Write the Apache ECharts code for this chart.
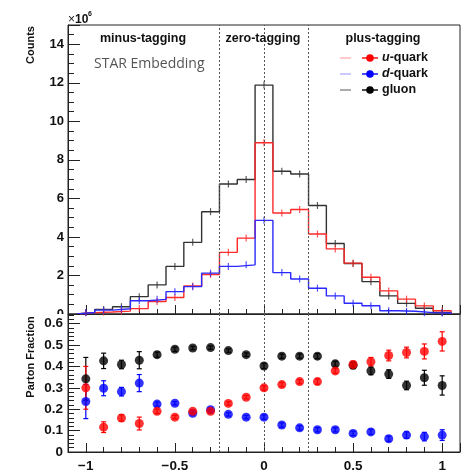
<!DOCTYPE html>
<html>
<head>
<meta charset="utf-8">
<script src="https://cdn.jsdelivr.net/npm/echarts@6/dist/echarts.min.js"></script>
<style>
  html, body { margin: 0; padding: 0; background: #fff; }
  #chart { width: 462px; height: 473px; }
</style>
</head>
<body>
<div id="chart"></div>
<script>
// === donnees ===
const binCenters = [-1.0, -0.9, -0.8, -0.7, -0.6, -0.5, -0.4, -0.3, -0.2, -0.1, 0.0,
                    0.1, 0.2, 0.3, 0.4, 0.5, 0.6, 0.7, 0.8, 0.9, 1.0];
const binWidth = 0.1;

// Counts (x10^6)
const gluonCounts = [0.08, 0.24, 0.38, 0.90, 1.51, 2.47, 3.72, 5.31, 6.75, 6.98, 11.88,
                     7.41, 7.27, 5.63, 3.66, 2.62, 1.68, 0.94, 0.55, 0.30, 0.08];
const uCounts = [0.07, 0.10, 0.15, 0.28, 0.65, 0.86, 1.45, 2.05, 3.20, 3.94, 8.89,
                 5.24, 5.42, 4.15, 3.38, 2.64, 1.91, 1.20, 0.77, 0.42, 0.17];
const dCounts = [0.08, 0.20, 0.27, 0.69, 0.76, 1.16, 1.42, 2.12, 2.47, 2.55, 4.86,
                 2.15, 1.82, 1.34, 0.94, 0.56, 0.43, 0.17, 0.14, 0.07, 0.05];

// Parton fraction
const gluonFrac = [0.342, 0.426, 0.409, 0.429, 0.455, 0.480, 0.486, 0.488, 0.474, 0.455, 0.402,
                   0.448, 0.448, 0.448, 0.412, 0.405, 0.379, 0.364, 0.311, 0.347, 0.311];
const gluonErr = [0.10, 0.036, 0.02, 0.04, 0.012, 0.01, 0.008, 0.008, 0.008, 0.008, 0.012,
                  0.01, 0.01, 0.012, 0.012, 0.015, 0.018, 0.02, 0.02, 0.035, 0.045];
const uFrac = [0.300, 0.116, 0.159, 0.133, 0.190, 0.163, 0.190, 0.190, 0.227, 0.256, 0.300,
               0.315, 0.329, 0.329, 0.379, 0.409, 0.422, 0.451, 0.465, 0.470, 0.517];
const uErr = [0.10, 0.025, 0.015, 0.03, 0.01, 0.008, 0.008, 0.008, 0.008, 0.008, 0.01,
              0.01, 0.01, 0.012, 0.012, 0.015, 0.02, 0.025, 0.025, 0.035, 0.045];
const dFrac = [0.236, 0.298, 0.282, 0.322, 0.224, 0.228, 0.181, 0.198, 0.176, 0.163, 0.163,
               0.126, 0.113, 0.104, 0.104, 0.087, 0.094, 0.062, 0.079, 0.072, 0.079];
const dErr = [0.08, 0.035, 0.02, 0.04, 0.01, 0.008, 0.008, 0.008, 0.008, 0.008, 0.01,
              0.01, 0.01, 0.01, 0.01, 0.01, 0.012, 0.012, 0.015, 0.02, 0.025];

const tagCuts = [-0.25, 0, 0.25];
const regionLabels = ["minus-tagging", "zero-tagging", "plus-tagging"];

// === helpers ===
const FONT = "Liberation Sans";
const RED = "#ff2a2a", BLUE = "#2a2aff", BLACK = "#333";

function histoPoints(vals) {
  const pts = [[binCenters[0] - binWidth / 2, 0]];
  binCenters.forEach((c, i) => {
    pts.push([c - binWidth / 2, vals[i]]);
    pts.push([c + binWidth / 2, vals[i]]);
  });
  pts.push([binCenters[binCenters.length - 1] + binWidth / 2, 0]);
  return pts;
}

function histoSeries(name, vals, color, withCuts) {
  const s = {
    name, type: "line", xAxisIndex: 0, yAxisIndex: 0,
    data: histoPoints(vals), showSymbol: false, silent: true,
    lineStyle: { color, width: 1.4 }, z: 3
  };
  if (withCuts) s.markLine = cutLines();
  return s;
}

function histoErrSeries(vals, color) {
  return {
    type: "scatter", xAxisIndex: 0, yAxisIndex: 0, silent: true,
    data: binCenters.map((c, i) => [c, vals[i]]),
    symbol: "rect", symbolSize: [1.2, 7],
    itemStyle: { color }, z: 4
  };
}

function cutLines() {
  return {
    silent: true, symbol: ["none", "none"], label: { show: false },
    lineStyle: { type: [2, 2], color: "#555", width: 1 },
    data: tagCuts.map(v => ({ xAxis: v }))
  };
}

function fracSeries(name, vals, color, withCuts) {
  const s = {
    name, type: "scatter", xAxisIndex: 1, yAxisIndex: 1, silent: true,
    data: binCenters.map((c, i) => [c, vals[i]]),
    symbol: "circle", symbolSize: 9,
    itemStyle: { color }, z: 5
  };
  if (withCuts) s.markLine = cutLines();
  return s;
}

function errSeries(vals, errs, color) {
  return {
    type: "custom", xAxisIndex: 1, yAxisIndex: 1, silent: true, z: 4,
    data: binCenters.map((c, i) => [c, vals[i], errs[i]]),
    renderItem(params, api) {
      const x = api.value(0), y = api.value(1), e = api.value(2);
      const hi = api.coord([x, y + e]);
      const lo = api.coord([x, y - e]);
      const st = { stroke: color, lineWidth: 1.2 };
      return {
        type: "group",
        children: [
          { type: "line", shape: { x1: hi[0], y1: hi[1], x2: lo[0], y2: lo[1] }, style: st },
          { type: "line", shape: { x1: hi[0] - 2.5, y1: hi[1], x2: hi[0] + 2.5, y2: hi[1] }, style: st },
          { type: "line", shape: { x1: lo[0] - 2.5, y1: lo[1], x2: lo[0] + 2.5, y2: lo[1] }, style: st }
        ]
      };
    }
  };
}

const tickLabel = { fontFamily: FONT, fontWeight: "bold", fontSize: 13, color: "#111" };
const axisLine = { show: true, onZero: false, lineStyle: { color: "#222", width: 1 } };

function xAxisDef(gridIndex, showLabels) {
  return {
    type: "value", gridIndex, min: -1.1, max: 1.1, splitNumber: 4,
    axisLine, splitLine: { show: false },
    axisTick: { inside: true, length: 9, lineStyle: { color: "#222" } },
    minorTick: { show: true, splitNumber: 5, length: 5, lineStyle: { color: "#222" } },
    axisLabel: Object.assign({
      show: showLabels, margin: 7, showMinLabel: false, showMaxLabel: false,
      formatter: v => (Math.abs(v) > 1.05 ? "" : v < 0 ? "\u2212" + Math.abs(v) : String(v))
    }, tickLabel, { fontSize: 13.5 })
  };
}

// === chart ===
const chart = echarts.init(document.getElementById("chart"));

const option = {
  animation: false,
  backgroundColor: "#fff",
  grid: [
    { left: 68, right: 2, top: 25, height: 289, show: true, borderColor: "#222", borderWidth: 1, backgroundColor: "transparent" },
    { left: 68, right: 2, top: 314, height: 149, show: true, borderColor: "#222", borderWidth: 1, backgroundColor: "transparent" }
  ],
  xAxis: [xAxisDef(0, false), xAxisDef(1, true)],
  yAxis: [
    {
      type: "value", gridIndex: 0, min: 0, max: 15, interval: 2, z: 0,
      axisLine, splitLine: { show: false },
      axisTick: { inside: true, length: 12, lineStyle: { color: "#222" } },
      minorTick: { show: true, splitNumber: 4, length: 6, lineStyle: { color: "#222" } },
      axisLabel: Object.assign({ margin: 4, showMaxLabel: false }, tickLabel)
    },
    {
      type: "value", gridIndex: 1, min: 0, max: 0.645, interval: 0.1, z: 10,
      axisLine, splitLine: { show: false },
      axisTick: { inside: true, length: 12, lineStyle: { color: "#222" } },
      minorTick: { show: true, splitNumber: 5, length: 6, lineStyle: { color: "#222" } },
      axisLabel: Object.assign({ margin: 5, showMaxLabel: false }, tickLabel, { fontSize: 13.5 })
    }
  ],
  series: [
    histoSeries("gluon", gluonCounts, BLACK, true),
    histoSeries("u-quark", uCounts, RED, false),
    histoSeries("d-quark", dCounts, BLUE, false),
    histoErrSeries(gluonCounts, BLACK),
    histoErrSeries(uCounts, RED),
    histoErrSeries(dCounts, BLUE),
    errSeries(gluonFrac, gluonErr, "#000"),
    errSeries(dFrac, dErr, "#0000ff"),
    errSeries(uFrac, uErr, "#ff0000"),
    fracSeries("gluon", gluonFrac, "#000", true),
    fracSeries("d-quark", dFrac, "#0000ff", false),
    fracSeries("u-quark", uFrac, "#ff0000", false)
  ],
  graphic: [
    // le pad du bas cache la moitie du "0" du haut
    { type: "rect", z: 5, shape: { x: 46, y: 314, width: 20, height: 8 }, style: { fill: "#fff" } },
    // titres d'axes
    { type: "text", x: 31, y: 45, rotation: Math.PI / 2, z: 20,
      style: { text: "Counts", font: `bold 11px ${FONT}`, fill: "#111", textAlign: "center", textVerticalAlign: "middle" } },
    { type: "text", x: 31, y: 357, rotation: Math.PI / 2, z: 20,
      style: { text: "Parton Fraction", font: `bold 11px ${FONT}`, fill: "#111", textAlign: "center", textVerticalAlign: "middle" } },
    { type: "text", x: 68, y: 20,
      style: { text: "\u00d7", font: `12px ${FONT}`, fill: "#222", textAlign: "left", textVerticalAlign: "middle" } },
    { type: "text", x: 75, y: 20,
      style: { text: "10", font: `bold 12px ${FONT}`, fill: "#111", textAlign: "left", textVerticalAlign: "middle" } },
    { type: "text", x: 88, y: 14,
      style: { text: "6", font: `bold 7px ${FONT}`, fill: "#111", textAlign: "left", textVerticalAlign: "middle" } },
    // regions
    { type: "text", x: 143, y: 39, z: 20,
      style: { text: regionLabels[0], font: `bold 12.5px ${FONT}`, fill: "#111", textAlign: "center", textVerticalAlign: "middle" } },
    { type: "text", x: 263, y: 39, z: 20,
      style: { text: regionLabels[1], font: `bold 12.5px ${FONT}`, fill: "#111", textAlign: "center", textVerticalAlign: "middle" } },
    { type: "text", x: 383, y: 39, z: 20,
      style: { text: regionLabels[2], font: `bold 12.5px ${FONT}`, fill: "#111", textAlign: "center", textVerticalAlign: "middle" } },
    { type: "text", x: 94, y: 64, z: 20,
      style: { text: "STAR Embedding", font: `14px "Open Sans"`, fill: "#555", textAlign: "left", textVerticalAlign: "middle" } },
    // legende
    ...[["u", "-quark", "#ff0000", "rgba(255,0,0,0.35)", 58],
        ["d", "-quark", "#0000ff", "rgba(0,0,255,0.35)", 74],
        ["", "gluon", "#000", "rgba(0,0,0,0.55)", 90]].flatMap(([it, rest, col, faint, y]) => [
      { type: "line", z: 20, shape: { x1: 340, y1: y, x2: 351, y2: y }, style: { stroke: faint, lineWidth: 1.2 } },
      { type: "line", z: 20, shape: { x1: 362, y1: y, x2: 378, y2: y }, style: { stroke: col, lineWidth: 1.4 } },
      { type: "circle", z: 21, shape: { cx: 370, cy: y, r: 3.8 }, style: { fill: col } },
      { type: "text", z: 20, x: 382, y,
        style: {
          text: (it ? `{i|${it}}` : "") + `{b|${rest}}`,
          textVerticalAlign: "middle", textAlign: "left",
          rich: {
            i: { fontFamily: FONT, fontStyle: "italic", fontWeight: "bold", fontSize: 12.5, fill: "#111" },
            b: { fontFamily: FONT, fontWeight: "bold", fontSize: 12.5, fill: "#111" }
          }
        } }
    ])
  ]
};

chart.setOption(option);
window.addEventListener("resize", () => chart.resize());
</script>
</body>
</html>
